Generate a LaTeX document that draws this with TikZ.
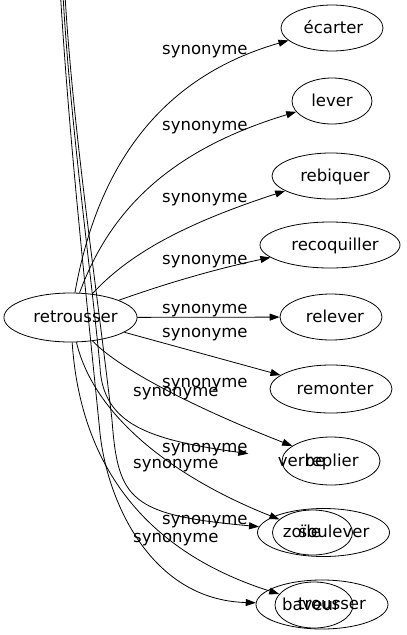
\documentclass[tikz,border=0pt]{standalone}
\usepackage{fontspec}
\setmainfont{DejaVu Sans}
\usetikzlibrary{shapes.geometric,arrows.meta}
\begin{document}
\begin{tikzpicture}[x=1pt,y=-1pt,
  every node/.style={font=\fontsize{16.5}{19}\selectfont},
  ell/.style={draw, ellipse, inner sep=0pt, text height=12.5pt, text depth=2.5pt, line width=0.8pt},
  lab/.style={anchor=base west, inner sep=0pt},
  syn/.style={line width=0.8pt, -{Triangle[length=10pt,width=7pt]}}
]
\useasboundingbox (0,0) rectangle (407,635);
% nodes
\node[ell, minimum width=133pt, minimum height=49pt] (retrousser) at (70.5,317.5) {\hspace*{10pt}retrousser};
\node[ell, minimum width=102pt, minimum height=46pt] (ecarter) at (332,28) {\hspace*{3pt}écarter};
\node[ell, minimum width=80pt, minimum height=46pt] (lever) at (332,101) {lever};
\node[ell, minimum width=118pt, minimum height=46pt] (rebiquer) at (331,176) {\hspace*{8pt}rebiquer};
\node[ell, minimum width=140pt, minimum height=46pt] (recoquiller) at (330,245) {\hspace*{10pt}recoquiller};
\node[ell, minimum width=102pt, minimum height=46pt] (relever) at (331,317) {\hspace*{8pt}relever};
\node[ell, minimum width=122pt, minimum height=48pt] (remonter) at (331,389) {\hspace*{8pt}remonter};
\node[ell, minimum width=98pt, minimum height=48pt] (replier) at (331,461) {\hspace*{2pt}replier};
\node[rectangle, inner sep=0pt, minimum width=106pt, minimum height=46pt, text height=12.5pt, text depth=2.5pt] (verbe) at (301.5,461) {verbe};
\node[ell, minimum width=132pt, minimum height=48pt] (soulever) at (323.5,532.5) {\hspace*{21pt}soulever};
\node[ell, minimum width=80pt, minimum height=45pt] (zoile) at (312.5,532.5) {\hspace*{-21pt}zoïle};
\node[ell, minimum width=132pt, minimum height=49pt] (trousser) at (322,604.5) {\hspace*{20pt}trousser};
\node[ell, minimum width=78pt, minimum height=46pt] (baveur) at (314,605) {\hspace*{-6pt}baveur};
% free ends above the picture
\coordinate (top1) at (60.5,-5);
\coordinate (top2) at (63,-5);
\coordinate (top3) at (65,-5);
% edges
\draw[syn] (retrousser) .. controls (95,180) and (150,80) .. (ecarter);
\draw[syn] (retrousser) .. controls (110,210) and (170,150) .. (lever);
\draw[syn] (retrousser) .. controls (127,256) and (180,225) .. (rebiquer);
\draw[syn] (retrousser) .. controls (170,282) and (220,268) .. (recoquiller);
\draw[syn] (retrousser) -- (relever);
\draw[syn] (retrousser) -- (remonter);
\draw[syn] (retrousser) .. controls (120,370) and (200,410) .. (replier);
\draw[syn] (retrousser) .. controls (95,420) and (180,480) .. (zoile);
\draw[syn] (retrousser) .. controls (80,460) and (140,550) .. (baveur);
\draw[syn] (top1) .. controls (69.3,141) and (85.4,287) .. (100,433) .. controls (107,500) and (150,600) .. (trousser);
\draw[syn] (top2) .. controls (70,120) and (92,280) .. (100,367) .. controls (103,425) and (150,440) .. (verbe);
\draw[syn] (top3) .. controls (73,130) and (97,290) .. (112,420) .. controls (118,500) and (130,515) .. (soulever);
% labels
\node[lab] (l1) at (162,54) {synonyme};
\node[lab] (l2) at (162,130) {synonyme};
\node[lab] (l3) at (162,202) {synonyme};
\node[lab] (l4) at (162,264) {synonyme};
\node[lab] (l5) at (162,313) {synonyme};
\node[lab] (l6) at (162,337) {synonyme};
\node[lab] (l7) at (162,387) {synonyme};
\node[lab] (l8) at (133,396) {synonyme};
\node[lab] (l9) at (162,452) {synonyme};
\node[lab] (l10) at (133,468) {synonyme};
\node[lab] (l11) at (162,524) {synonyme};
\node[lab] (l12) at (133,542) {synonyme};
\end{tikzpicture}
\end{document}
